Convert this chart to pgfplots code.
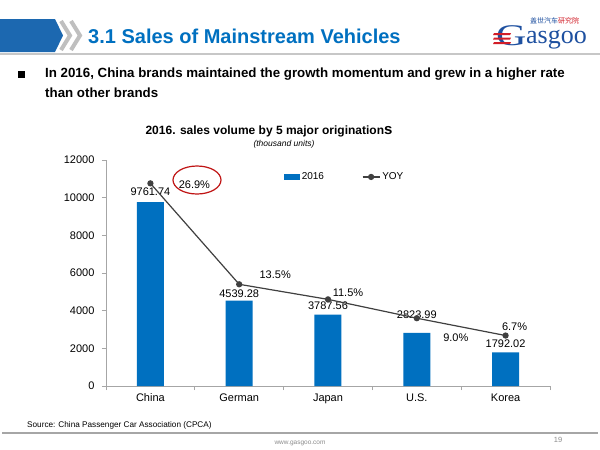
\documentclass[border=0pt]{standalone}
\usepackage{fontspec}
\setmainfont{Liberation Sans}
\newfontfamily\seriffont{Liberation Serif}
\newfontfamily\cjk{Noto Sans CJK SC}
\usepackage{pgfplots}
\pgfplotsset{compat=1.18}
\usepackage{pgfplotstable}
\definecolor{barblue}{RGB}{0,112,192}
\definecolor{bandblue}{RGB}{28,104,176}
\definecolor{titleblue}{RGB}{0,112,192}
\definecolor{linegray}{RGB}{64,64,64}
\definecolor{axisgray}{RGB}{166,166,166}
\definecolor{logored}{RGB}{210,30,40}
\definecolor{logoblue}{RGB}{30,80,160}
\definecolor{circred}{RGB}{192,20,20}

\pgfplotstableread{
x y lbl dy
0 9761.74 9761.74 10
1 4539.28 4539.28 7
2 3787.56 3787.56 9
3 2823.99 2823.99 18
4 1792.02 1792.02 9
}\bars

\pgfplotstableread{
x y lbl dx dy
0 26.9 26.9 44 -1.5
1 13.5 13.5 36 10
2 11.5 11.5 20 6.3
3 9.0 9.0 39 -20
4 6.7 6.7 9 9.3
}\yoy

\begin{document}
\begin{tikzpicture}
\path[fill=white] (0,0) rectangle (600pt,-450pt);
\path[use as bounding box] (0,0) rectangle (600pt,-450pt);
\begin{scope}[x=1pt,y=-1pt]
% header
\draw[black!22, line width=1.5pt] (0,54) -- (600,54);
\fill[bandblue] (0,19) -- (55,19) -- (63,35.5) -- (55,52) -- (0,52) -- cycle;
\draw[black!25, line width=4pt] (61,21) -- (70,35.5) -- (61,50);
\draw[black!25, line width=4pt] (71,21) -- (80,35.5) -- (71,50);
\node[anchor=west, font=\fontsize{20}{24}\selectfont\bfseries, text=titleblue, inner sep=0] at (88,36) {3.1 Sales of Mainstream Vehicles};
% logo
\node[anchor=west, font=\cjk\fontsize{7}{8}\selectfont, inner sep=0] at (530,20.5) {\textcolor{logoblue}{盖世汽车}\textcolor{logored}{研究院}};
\node[anchor=base west, font=\seriffont\fontsize{30}{30}\selectfont, text=logoblue, inner sep=0] at (496,45) {\scalebox{1.4}[1]{G}};
\node[anchor=base west, font=\seriffont\fontsize{26}{26}\selectfont, text=logoblue, inner sep=0] at (526,43) {asgoo};
\foreach \yy in {33,37.5,42}{\fill[logored] (494,\yy) -- (511,\yy) -- (510,\yy+2) -- (493,\yy+2) -- cycle;}
% bullet
\fill[black] (18,71) rectangle (25,78);
\node[anchor=west, font=\bfseries\fontsize{13.3}{15}\selectfont, inner sep=0] at (45,74.5) {In 2016, China brands maintained the growth momentum and grew in a higher rate};
\node[anchor=west, font=\bfseries\fontsize{13.3}{15}\selectfont, inner sep=0] at (45,92.5) {than other brands};
% chart title
\node[font=\bfseries\fontsize{12}{14}\selectfont] at (269,131) {2016. sales volume by 5 major origination{\fontsize{15}{15}\selectfont s}};
\node[font=\itshape\fontsize{8.5}{10}\selectfont] at (284,144.5) {(thousand units)};
% footer
\node[anchor=west, font=\fontsize{8.2}{10}\selectfont, inner sep=0] at (27,425) {Source: China Passenger Car Association (CPCA)};
\draw[black!35, line width=1.5pt] (2,433) -- (598,433);
\node[font=\fontsize{6.5}{8}\selectfont, text=black!45] at (300,443) {www.gasgoo.com};
\node[font=\fontsize{7.5}{9}\selectfont, text=black!45] at (558,440) {19};
\end{scope}

\begin{axis}[
  at={(106pt,-386pt)}, anchor=south west,
  width=444pt, height=226pt, scale only axis,
  xmin=-0.5, xmax=4.5, ymin=0, ymax=12000,
  axis x line*=bottom, axis y line*=left,
  axis line style={axisgray, line width=0.8pt, -},
  xtick={-0.5,0.5,1.5,2.5,3.5,4.5},
  x tick label as interval,
  xticklabels={China,German,Japan,U.S.,Korea},
  ytick={0,2000,4000,6000,8000,10000,12000},
  tick align=outside, major tick length=4pt,
  tick style={axisgray, line width=0.8pt},
  ticklabel style={font=\fontsize{11}{13}\selectfont},
  yticklabel style={xshift=-4pt},
  /pgf/number format/assume math mode=true,
  /pgf/number format/1000 sep={},
  scaled y ticks=false,
  ybar, bar width=27pt,
  clip=false,
]
\addplot[fill=barblue, draw=none, point meta=explicit symbolic,
  nodes near coords,
  visualization depends on={\thisrow{dy}\as\dyv},
  nodes near coords style={anchor=center, yshift=\dyv, font=\fontsize{11}{13}\selectfont, text=black}]
  table[x=x, y=y, meta=lbl] {\bars};
\end{axis}

\begin{axis}[
  at={(106pt,-386pt)}, anchor=south west,
  width=444pt, height=226pt, scale only axis,
  xmin=-0.5, xmax=4.5, ymin=0, ymax=30,
  hide axis, clip=false,
  legend style={at={(0.538,0.925)}, anchor=center, draw=none, fill=none,
    font=\fontsize{10}{12}\selectfont, legend columns=2,
    /tikz/every even column/.append style={column sep=36pt}},
]
\addlegendimage{legend image code/.code={\fill[barblue] (0pt,-2.5pt) rectangle (15pt,2.5pt);}}
\addlegendentry{2016}
\addplot[linegray, line width=1.2pt, mark=*, mark size=2.5pt,
  point meta=explicit symbolic,
  nodes near coords={\pgfplotspointmeta\%},
  visualization depends on={\thisrow{dx}\as\dxv},
  visualization depends on={\thisrow{dy}\as\dyv},
  nodes near coords style={anchor=center, xshift=\dxv, yshift=\dyv, font=\fontsize{11}{13}\selectfont, text=black}]
  table[x=x, y=y, meta=lbl] {\yoy};
\addlegendentry{YOY}
\end{axis}

\begin{scope}[x=1pt,y=-1pt]
\draw[circred, line width=1.2pt] (197,180) ellipse [x radius=24, y radius=14];
\end{scope}
\end{tikzpicture}
\end{document}
